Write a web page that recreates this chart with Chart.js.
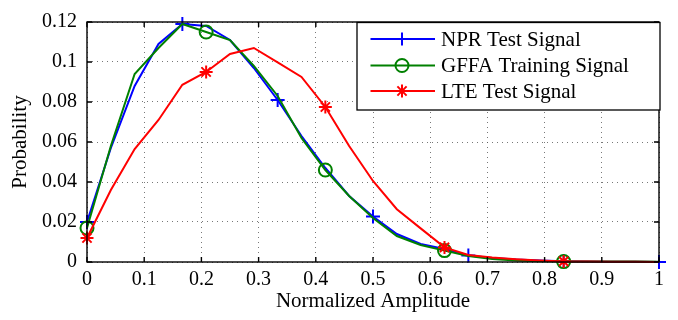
<!DOCTYPE html>
<html>
<head>
<meta charset="utf-8">
<script src="https://cdn.jsdelivr.net/npm/chart.js@4/dist/chart.umd.min.js"></script>
<style>
    html, body { margin: 0; padding: 0; background: #fff; }
    #wrap { width: 678px; height: 320px; }
</style>
</head>
<body>
<div id="wrap"><canvas id="chart" width="678" height="320"></canvas></div>
<script>
// Amplitude bins (normalized) and probability per signal
const amplitude = [0, 0.0417, 0.0833, 0.125, 0.1667, 0.2083, 0.25, 0.2917, 0.3333, 0.375,
    0.4167, 0.4583, 0.5, 0.5417, 0.5833, 0.625, 0.6667, 0.7083, 0.75, 0.7917,
    0.8333, 0.875, 0.9167, 0.9583, 1];
const nprTest = [0.020, 0.057, 0.088, 0.109, 0.119, 0.118, 0.111, 0.097, 0.081, 0.063,
    0.047, 0.033, 0.0227, 0.014, 0.009, 0.0065, 0.0033, 0.002, 0.0012, 0.0007,
    0.0004, 0.0002, 0.0001, 0.0001, 0];
const gffaTraining = [0.017, 0.058, 0.094, 0.107, 0.119, 0.115, 0.111, 0.098, 0.083, 0.062,
    0.046, 0.033, 0.022, 0.013, 0.0085, 0.0057, 0.003, 0.0015, 0.0008, 0.0004,
    0.0002, 0.0002, 0.0002, 0.0002, 0.0001];
const lteTest = [0.012, 0.036, 0.0565, 0.071, 0.0886, 0.095, 0.104, 0.107, 0.0998, 0.0925,
    0.0775, 0.058, 0.0405, 0.0264, 0.0168, 0.0073, 0.0035, 0.0022, 0.0014, 0.0008,
    0.0003, 0.0002, 0.0001, 0.0001, 0];
const xTicks = [0, 0.1, 0.2, 0.3, 0.4, 0.5, 0.6, 0.7, 0.8, 0.9, 1];
const yTicks = [0, 0.02, 0.04, 0.06, 0.08, 0.1, 0.12];
const seriesNames = ['NPR Test Signal', 'GFFA Training Signal', 'LTE Test Signal'];

const FONT = '"Liberation Serif", "Times New Roman", serif';

function toPoints(values) {
    return values.map((v, i) => ({ x: amplitude[i], y: v }));
}

// markers only every few samples, like the original plot
function markEvery(n, size) {
    return amplitude.map((_, i) => (i % n === 0 ? size : 0));
}

const datasets = [
    {
        label: seriesNames[0],
        data: toPoints(nprTest),
        borderColor: '#0000ff',
        pointStyle: 'cross',
        pointRadius: markEvery(4, 7),
        order: 2
    },
    {
        label: seriesNames[1],
        data: toPoints(gffaTraining),
        borderColor: '#008000',
        pointStyle: 'circle',
        pointRadius: markEvery(5, 6.5),
        order: 1
    },
    {
        label: seriesNames[2],
        data: toPoints(lteTest),
        borderColor: '#ff0000',
        pointStyle: 'star',
        pointRadius: markEvery(5, 6.5),
        order: 0
    }
];
datasets.forEach(ds => {
    ds.borderWidth = 2;
    ds.pointBorderWidth = 2;
    ds.backgroundColor = 'rgba(0,0,0,0)';
    ds.pointBackgroundColor = 'rgba(0,0,0,0)';
    ds.pointBorderColor = ds.borderColor;
    ds.tension = 0;
    ds.clip = false;
});

// Frame with inward ticks plus the boxed legend
const framePlugin = {
    id: 'frame',
    afterDraw(chart) {
        const { ctx, chartArea: a, scales } = chart;
        const tick = 5;
        ctx.save();
        ctx.strokeStyle = '#000';
        ctx.lineWidth = 1.4;
        ctx.strokeRect(a.left, a.top, a.right - a.left, a.bottom - a.top);
        ctx.beginPath();
        xTicks.forEach(v => {
            const px = scales.x.getPixelForValue(v);
            ctx.moveTo(px, a.bottom); ctx.lineTo(px, a.bottom - tick);
            ctx.moveTo(px, a.top); ctx.lineTo(px, a.top + tick);
        });
        yTicks.forEach(v => {
            const py = scales.y.getPixelForValue(v);
            ctx.moveTo(a.left, py); ctx.lineTo(a.left + tick, py);
            ctx.moveTo(a.right, py); ctx.lineTo(a.right - tick, py);
        });
        ctx.stroke();

        // legend box
        const box = { left: 357, top: 22.5, right: 660, bottom: 110 };
        ctx.fillStyle = '#fff';
        ctx.fillRect(box.left, box.top, box.right - box.left, box.bottom - box.top);
        ctx.lineWidth = 1.3;
        ctx.strokeRect(box.left, box.top, box.right - box.left, box.bottom - box.top);
        const rows = [39, 65.5, 91];
        ctx.font = '21px ' + FONT;
        ctx.textBaseline = 'middle';
        datasets.forEach((ds, i) => {
            const y = rows[i];
            ctx.strokeStyle = ds.borderColor;
            ctx.lineWidth = ds.borderWidth;
            ctx.beginPath();
            ctx.moveTo(370.5, y); ctx.lineTo(435, y);
            ctx.stroke();
            ctx.fillStyle = 'rgba(0,0,0,0)';
            Chart.helpers.drawPoint(ctx, {
                pointStyle: ds.pointStyle,
                radius: 6.5,
                borderWidth: ds.pointBorderWidth,
                rotation: 0
            }, 402, y);
            ctx.fillStyle = '#000';
            ctx.fillText(ds.label, 441, y + 1);
        });
        ctx.restore();
    }
};

function fmt(v) {
    return String(Number(v.toFixed(2)));
}

new Chart(document.getElementById('chart'), {
    type: 'line',
    data: { datasets: datasets },
    options: {
        responsive: false,
        animation: false,
        layout: { padding: { left: 0, top: 10, right: 19, bottom: 0 } },
        plugins: {
            legend: { display: false },
            tooltip: { enabled: false }
        },
        scales: {
            x: {
                type: 'linear',
                min: 0,
                max: 1,
                afterFit: s => { s.height = 58; },
                afterBuildTicks: s => { s.ticks = xTicks.map(v => ({ value: v })); },
                ticks: {
                    callback: v => fmt(v),
                    color: '#000',
                    font: { family: FONT, size: 20 },
                    padding: 6,
                    maxRotation: 0
                },
                grid: { color: '#555', lineWidth: 0.8, drawTicks: false },
                border: { display: false, dash: [1, 4] },
                title: {
                    display: true,
                    text: 'Normalized Amplitude',
                    color: '#000',
                    font: { family: FONT, size: 21 },
                    padding: { top: 0, bottom: 6 }
                }
            },
            y: {
                min: 0,
                max: 0.12,
                afterFit: s => { s.width = 87; },
                afterBuildTicks: s => { s.ticks = yTicks.map(v => ({ value: v })); },
                ticks: {
                    callback: v => fmt(v),
                    color: '#000',
                    font: { family: FONT, size: 20 },
                    padding: 10
                },
                grid: { color: '#555', lineWidth: 0.8, drawTicks: false },
                border: { display: false, dash: [1, 4] },
                title: {
                    display: true,
                    text: 'Probability',
                    color: '#000',
                    font: { family: FONT, size: 21 },
                    padding: { top: 8, bottom: 0 }
                }
            }
        }
    },
    plugins: [framePlugin]
});
</script>
</body>
</html>
